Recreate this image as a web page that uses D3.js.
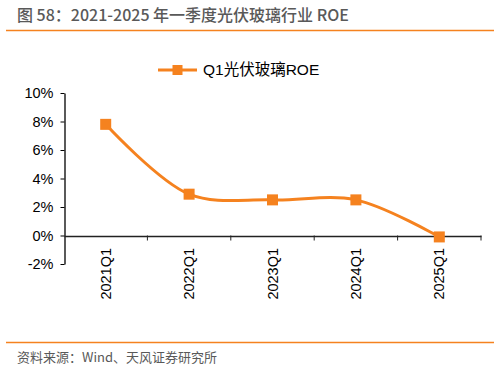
<!DOCTYPE html>
<meta charset="utf-8">
<script src="https://d3js.org/d3.v7.min.js"></script>
<style>
  body { margin: 0; background: #fff; }
  text { font-family: "Liberation Sans", Arial, "Noto Sans CJK SC", sans-serif; }
</style>
<div id="chart"></div>
<script>
// data
var quarters = ["2021Q1", "2022Q1", "2023Q1", "2024Q1", "2025Q1"];
var roe = [7.8, 2.9, 2.5, 2.5, -0.1];
var yTicks = [-2, 0, 2, 4, 6, 8, 10];

var W = 499, H = 372;
var svg = d3.select("#chart").append("svg")
  .attr("width", W).attr("height", H);

// header + footer
svg.append("text")
  .attr("x", 17).attr("y", 21)
  .style("font-size", "16px").style("font-weight", "500")
  .style("fill", "#595959")
  .style("font-family", "'Noto Sans CJK SC', sans-serif")
  .text("图 58：2021-2025 年一季度光伏玻璃行业 ROE");
svg.append("line")
  .attr("x1", 6).attr("x2", 494).attr("y1", 30.5).attr("y2", 30.5)
  .style("stroke", "#F5821F").style("stroke-width", 1.5);
svg.append("line")
  .attr("x1", 6).attr("x2", 494).attr("y1", 342.5).attr("y2", 342.5)
  .style("stroke", "#F5821F").style("stroke-width", 1.5);
svg.append("text")
  .attr("x", 17).attr("y", 362)
  .style("font-size", "13px").style("fill", "#595959")
  .style("font-family", "'Noto Sans CJK SC', sans-serif")
  .text("资料来源：Wind、天风证券研究所");

// scales
var x = d3.scaleBand().domain(quarters).range([64, 481]);
var y = d3.scaleLinear().domain([-2, 10]).range([264, 93]);

// y axis
var yAxis = svg.append("g")
  .attr("transform", "translate(64.5,0)")
  .call(d3.axisLeft(y).tickValues(yTicks).tickSize(4).tickSizeOuter(0)
    .tickFormat(function(d){ return d + "%"; }));
yAxis.select(".domain").style("stroke", "#000").style("stroke-width", 1.3);
yAxis.selectAll("line").style("stroke", "#000");
yAxis.selectAll("text").style("font-size", "14.5px").style("fill", "#000")
  .attr("x", -11);

// x axis at zero
var xAxis = svg.append("g")
  .attr("transform", "translate(0," + (y(0) + 0.5) + ")")
  .call(d3.axisBottom(x).tickSize(0).tickSizeOuter(0));
xAxis.select(".domain").style("stroke", "#222").style("stroke-width", 1.5);
xAxis.selectAll("text")
  .style("font-size", "14.5px").style("fill", "#000")
  .attr("transform", "rotate(-90)")
  .attr("text-anchor", "end")
  .attr("x", -12).attr("y", 0).attr("dy", "0.35em");
// tick marks at band boundaries
svg.append("g").selectAll("line")
  .data(quarters)
  .enter().append("line")
  .attr("x1", function(d){ return x(d) + x.bandwidth(); })
  .attr("x2", function(d){ return x(d) + x.bandwidth(); })
  .attr("y1", y(0)).attr("y2", y(0) + 5)
  .style("stroke", "#222");

// line
var orange = "#F5821F";
var line = d3.line()
  .x(function(d, i){ return x(quarters[i]) + x.bandwidth() / 2; })
  .y(function(d){ return y(d); })
  .curve(d3.curveCatmullRom.alpha(0.5));
svg.append("path")
  .datum(roe)
  .attr("d", line)
  .style("fill", "none").style("stroke", orange).style("stroke-width", 3);

svg.selectAll(".pt")
  .data(roe).enter().append("rect")
  .attr("class", "pt")
  .attr("x", function(d, i){ return x(quarters[i]) + x.bandwidth() / 2 - 5.5; })
  .attr("y", function(d){ return y(d) - 5.5; })
  .attr("width", 11).attr("height", 11)
  .style("fill", orange);

// legend
var lg = svg.append("g").attr("transform", "translate(158,70)");
lg.append("line").attr("x1", 0).attr("x2", 39).attr("y1", 0).attr("y2", 0)
  .style("stroke", orange).style("stroke-width", 3);
lg.append("rect").attr("x", 14.5).attr("y", -5).attr("width", 10).attr("height", 10)
  .style("fill", orange);
lg.append("text").attr("x", 45).attr("y", 0).attr("dy", "0.35em")
  .style("font-size", "15.5px").style("fill", "#000")
  .text("Q1光伏玻璃ROE");
</script>
